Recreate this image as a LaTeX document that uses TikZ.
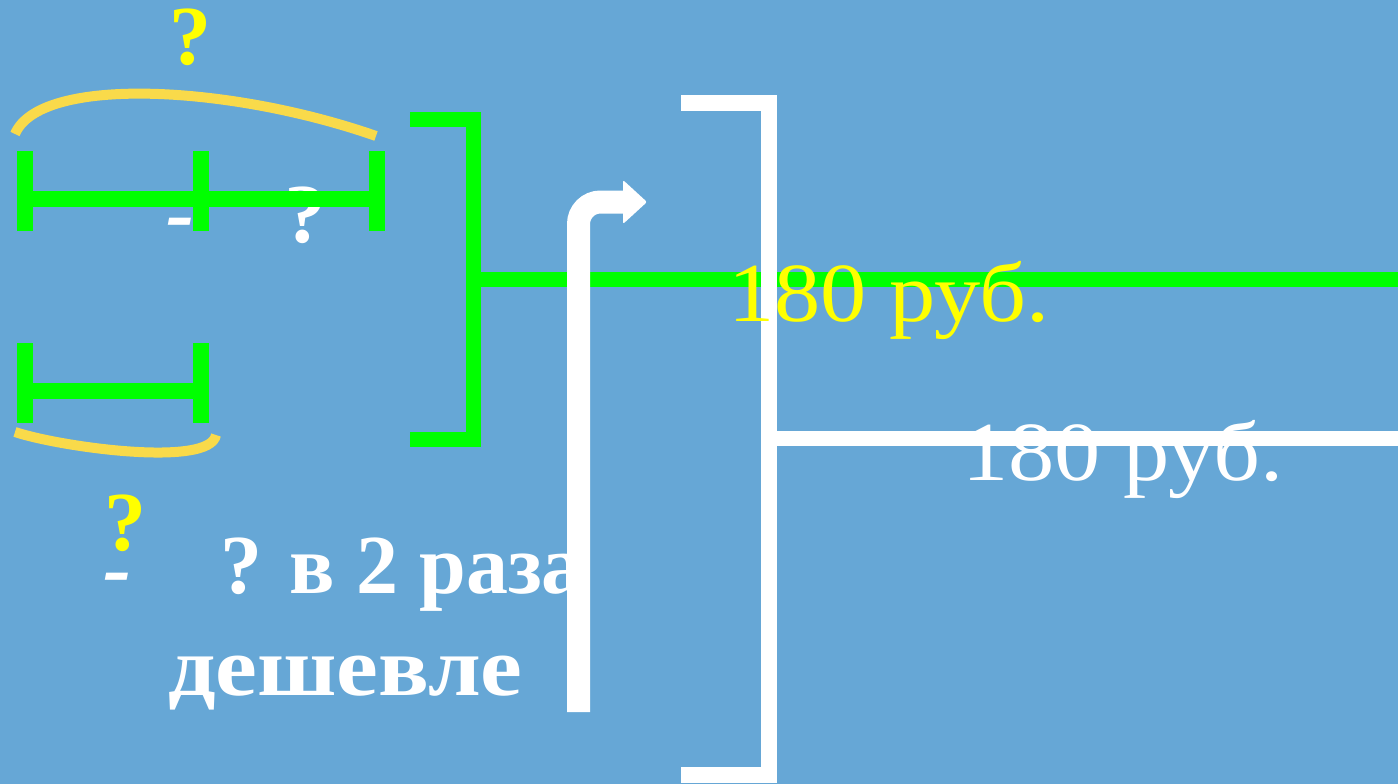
\documentclass[tikz,border=0pt]{standalone}
\usepackage{fontspec}
\setmainfont{Liberation Serif}
\definecolor{bg}{RGB}{102,167,214}
\definecolor{grn}{RGB}{0,255,0}
\definecolor{arcy}{RGB}{249,218,74}
\definecolor{txty}{RGB}{255,255,0}
\tikzset{
  big/.style={inner sep=0pt, outer sep=0pt, font=\fontsize{84}{100}\selectfont},
  bigb/.style={big, font=\fontsize{84}{100}\selectfont\bfseries},
  gline/.style={draw=grn, line width=16pt},
  wline/.style={draw=white, line width=16pt},
  yarc/.style={draw=arcy, line width=10pt},
}
\begin{document}
\begin{tikzpicture}[x=1pt,y=-1pt]
\useasboundingbox (0,0) rectangle (1398,784);
\fill[bg] (0,0) rectangle (1398,784);

% texts under lines
\node[bigb, text=txty, anchor=base west] (q1) at (169,65) {?};
\node[bigb, text=white, anchor=base west] (h1) at (166,241) {\itshape -};
\node[bigb, text=white, anchor=base west] (q2) at (284,242) {?};
\node[bigb, text=txty, anchor=base west] (q3) at (104,550) {?};
\node[bigb, text=white, anchor=base west] (h2) at (103,596) {\itshape -};
\node[bigb, text=white, anchor=base west] (t1) at (220,593) {? в 2 раза};
\node[bigb, text=white, anchor=base west] (t2) at (168,695) {\scalebox{1.12}[1]{дешевле}};

% yellow arcs
\draw[yarc] (15,134) .. controls (40,75) and (230,85) .. (376,136);
\draw[yarc] (15,432) .. controls (60,447) and (210,468) .. (216,435);

% top segment
\coordinate (a1) at (25,199);
\coordinate (a3) at (377,199);
\draw[gline] (a1) -- (a3);
\foreach \x in {25,201,377} \draw[gline] (\x,151) -- (\x,231);
% bottom segment
\coordinate (b1) at (25,391);
\coordinate (b2) at (201,391);
\draw[gline] (b1) -- (b2);
\foreach \x in {25,201} \draw[gline] (\x,343) -- (\x,423);

% green bracket
\coordinate (g1) at (410,119);
\coordinate (g2) at (473,119);
\coordinate (g3) at (473,439);
\coordinate (g4) at (410,439);
\coordinate (gm) at (473,279);
\coordinate (ge) at (1398,279);
\draw[gline, line width=15pt] (g1) -- (g2) -- (g3) -- (g4);
\draw[gline, line width=15pt] (gm) -- (ge);

% white bracket
\coordinate (w1) at (681,103);
\coordinate (w2) at (769,103);
\coordinate (w3) at (769,775);
\coordinate (w4) at (681,775);
\coordinate (wm) at (769,438);
\coordinate (we) at (1398,438);
\draw[wline] (w1) -- (w2) -- (w3) -- (w4);
\draw[wline, line width=15pt] (wm) -- (we);

% white turn arrow
\coordinate (r1) at (578.5,712);
\coordinate (r2) at (578.5,202);
\coordinate (r3) at (625,202);
\draw[white, line width=23pt, rounded corners=22pt] (r1) -- (r2) -- (r3);
\fill[white, rounded corners=2pt] (623,180) -- (647,202) -- (623,224) -- cycle;

% prices
\node[big, text=txty, anchor=base west] (p1) at (728,321) {\scalebox{1.1}[1]{180 руб.}};
\node[big, text=white, anchor=base west] (p2) at (962,480) {\scalebox{1.1}[1]{180 руб.}};
\end{tikzpicture}
\end{document}
